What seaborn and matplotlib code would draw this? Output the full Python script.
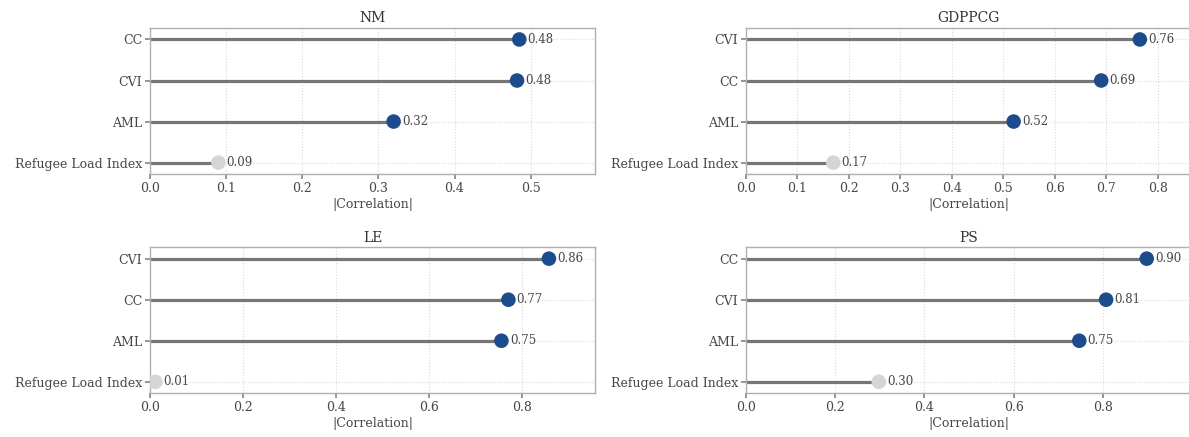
import matplotlib
matplotlib.use("Agg")
import matplotlib.pyplot as plt
import seaborn as sns
import pandas as pd

# ---- data ----
titles = ["NM", "GDPPCG", "LE", "PS"]
nm_labels = ["CC", "CVI", "AML", "Refugee Load Index"]
nm_values = [0.485, 0.482, 0.32, 0.09]
gdp_labels = ["CVI", "CC", "AML", "Refugee Load Index"]
gdp_values = [0.765, 0.69, 0.52, 0.17]
le_labels = ["CVI", "CC", "AML", "Refugee Load Index"]
le_values = [0.857, 0.77, 0.755, 0.012]
ps_labels = ["CC", "CVI", "AML", "Refugee Load Index"]
ps_values = [0.898, 0.807, 0.747, 0.298]
value_texts = [["0.48", "0.48", "0.32", "0.09"],
               ["0.76", "0.69", "0.52", "0.17"],
               ["0.86", "0.77", "0.75", "0.01"],
               ["0.90", "0.81", "0.75", "0.30"]]
highlight = "Refugee Load Index"

BLUE = "#1c4c8b"
LIGHT = "#d3d6d9"
STEM = "#767676"
TXT = "#474747"

sns.set_theme(style="whitegrid")
plt.rcParams["font.family"] = ["DejaVu Serif"]
plt.rcParams.update({
    "axes.edgecolor": "#b0b0b0",
    "axes.linewidth": 1.0,
    "grid.color": "#d9d9d9",
    "grid.linestyle": ":",
    "grid.linewidth": 0.8,
    "xtick.bottom": True,
    "ytick.left": True,
    "xtick.color": "#888888",
    "ytick.color": "#888888",
    "xtick.labelcolor": TXT,
    "ytick.labelcolor": TXT,
    "xtick.major.size": 3.5,
    "ytick.major.size": 3.5,
    "xtick.labelsize": 9,
    "ytick.labelsize": 9,
})

fig, axes = plt.subplots(2, 2, figsize=(11.89, 4.37), dpi=100)
fig.subplots_adjust(left=0.126, right=1.002, top=0.936, bottom=0.100,
                    wspace=0.337, hspace=0.50)

panels = [(nm_labels, nm_values), (gdp_labels, gdp_values),
          (le_labels, le_values), (ps_labels, ps_values)]

for ax, title, (labs, vals), txts in zip(axes.flat, titles, panels, value_texts):
    df = pd.DataFrame({"feature": labs, "value": vals,
                       "kind": ["hl" if l == highlight else "base" for l in labs]})
    ypos = list(range(len(labs)))
    df["y"] = ypos
    ax.hlines(df["y"], 0, df["value"], color=STEM, lw=2.3, zorder=2)
    sns.scatterplot(data=df, x="value", y="y", hue="kind",
                    palette={"base": BLUE, "hl": LIGHT}, s=110,
                    edgecolor="none", legend=False, ax=ax, zorder=3)
    for yv, v, t in zip(ypos, vals, txts):
        ax.annotate(t, (v, yv), xytext=(6, 0), textcoords="offset points",
                    va="center", ha="left", fontsize=8.5, color=TXT)
    ax.set_yticks(ypos)
    ax.set_yticklabels(labs)
    ax.set_ylim(len(labs) - 1 + 0.28, -0.28)
    ax.set_xlim(0, max(vals) + 0.1)
    ax.set_ylabel("")
    ax.set_xlabel("|Correlation|", fontsize=9, color=TXT, labelpad=2)
    ax.set_title(title, fontsize=10, color="#333333", pad=4)
    ax.tick_params(axis="both", pad=2)
    ax.grid(True, axis="both")

fig.savefig("out.png", dpi=100)
